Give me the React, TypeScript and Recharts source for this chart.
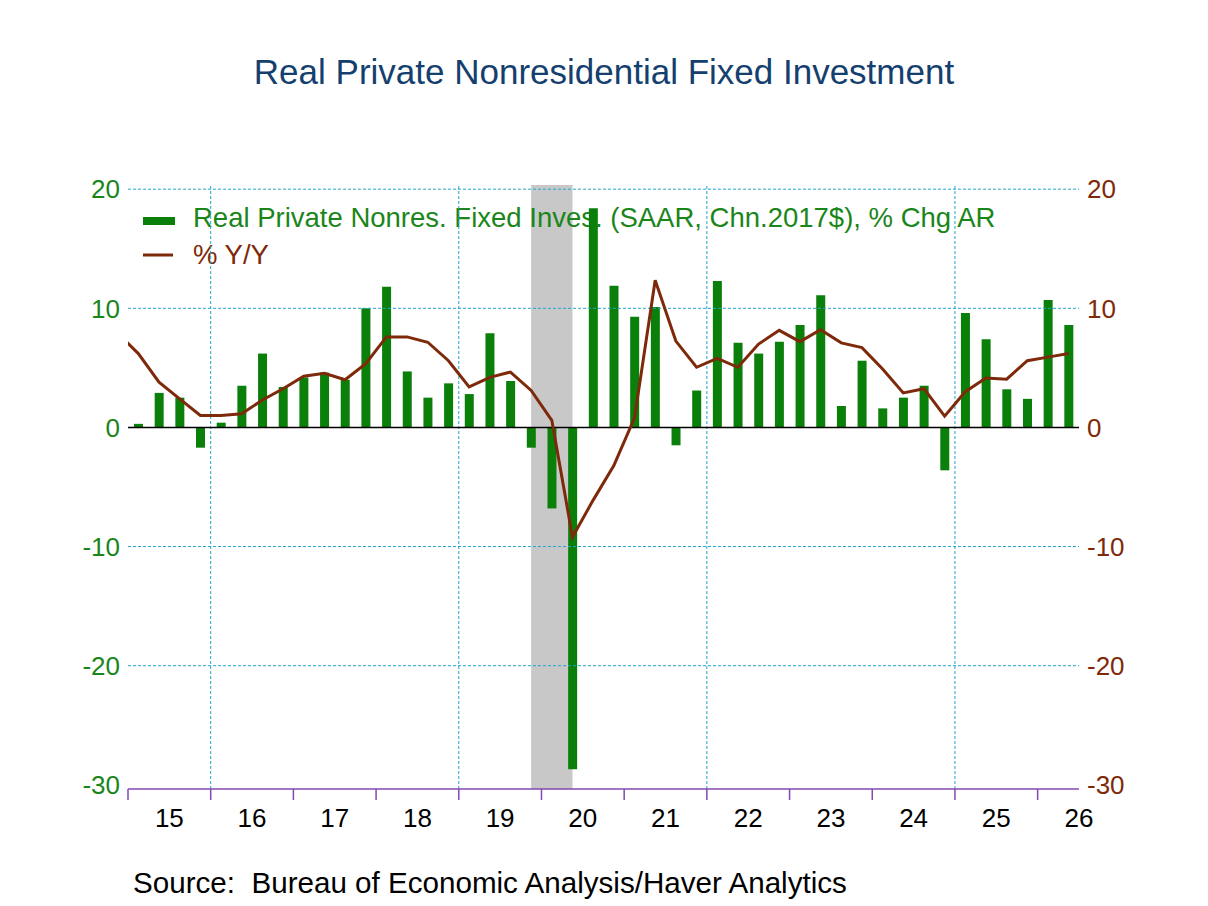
import React from "react";
import {
  ComposedChart,
  Bar,
  Line,
  XAxis,
  YAxis,
  ReferenceLine,
  ReferenceArea,
} from "recharts";

// quarters, 2014Q4 is only there so the Y/Y line runs in from the left edge
const quarters = [
  "2014Q4",
  "2015Q1", "2015Q2", "2015Q3", "2015Q4",
  "2016Q1", "2016Q2", "2016Q3", "2016Q4",
  "2017Q1", "2017Q2", "2017Q3", "2017Q4",
  "2018Q1", "2018Q2", "2018Q3", "2018Q4",
  "2019Q1", "2019Q2", "2019Q3", "2019Q4",
  "2020Q1", "2020Q2", "2020Q3", "2020Q4",
  "2021Q1", "2021Q2", "2021Q3", "2021Q4",
  "2022Q1", "2022Q2", "2022Q3", "2022Q4",
  "2023Q1", "2023Q2", "2023Q3", "2023Q4",
  "2024Q1", "2024Q2", "2024Q3", "2024Q4",
  "2025Q1", "2025Q2", "2025Q3", "2025Q4",
  "2026Q1", "2026Q2",
];

const pctChgAR = [
  null,
  0.3, 2.9, 2.5, -1.7,
  0.4, 3.5, 6.2, 3.4,
  4.2, 4.6, 4.0, 10.0,
  11.8, 4.7, 2.5, 3.7,
  2.8, 7.9, 3.9, -1.7,
  -6.8, -28.7, 18.4, 11.9,
  9.3, 10.1, -1.5, 3.1,
  12.3, 7.1, 6.2, 7.2,
  8.6, 11.1, 1.8, 5.6,
  1.6, 2.5, 3.5, -3.6,
  9.6, 7.4, 3.2, 2.4,
  10.7, 8.6,
];

const pctYoY = [
  7.9,
  6.2, 3.8, 2.4, 1.0,
  1.0, 1.15, 2.3, 3.25,
  4.3, 4.55, 4.0, 5.35,
  7.6, 7.6, 7.15, 5.6,
  3.4, 4.2, 4.65, 3.1,
  0.6, -9.2, -6.1, -3.2,
  0.8, 12.35, 7.25, 5.05,
  5.8, 5.05, 7.0, 8.15,
  7.2, 8.2, 7.1, 6.7,
  4.9, 2.9, 3.25, 0.95,
  3.0, 4.15, 4.05, 5.6,
  5.9, 6.2,
];

const yearLabels = ["15", "16", "17", "18", "19", "20", "21", "22", "23", "24", "25", "26"];
const gridYears = ["16", "19", "22", "25"];
const yTicks = [-30, -20, -10, 0, 10, 20];
const gridValues = [-20, -10, 10, 20];
const recession = ["2019Q4", "2020Q2"];

const GREEN = "#0A7F0A";
const GREEN_TEXT = "#1A861A";
const BROWN = "#7E2A0A";
const PURPLE = "#8448B0";
const CYAN = "#21A6C8";
const FONT = "'Liberation Sans', Arial, sans-serif";

const qIndex = (q: string) =>
  (Number(q.slice(0, 4)) - 2015) * 4 + Number(q.slice(5)) - 1;

const data = quarters.map((q, i) => ({
  q,
  x: qIndex(q),
  chg: pctChgAR[i],
  yoy: pctYoY[i],
}));

const yearStart = (k: number) => k * 4 - 0.5;
const yearMid = (k: number) => k * 4 + 1.5;
const xTicks = [
  ...yearLabels.map((_, k) => yearStart(k)),
  ...yearLabels.map((_, k) => yearMid(k)),
].sort((a, b) => a - b);

const Y_DOMAIN: [number, number] = [-30.35, 20.35];

function YearTick(props: any) {
  const { x, y, payload } = props;
  const v = payload.value as number;
  if (Math.abs((v + 0.5) % 4) < 1e-6) {
    return <line x1={x} x2={x} y1={y} y2={y + 11} stroke={PURPLE} strokeWidth={1.5} />;
  }
  const k = Math.round((v - 1.5) / 4);
  return (
    <text x={x} y={y + 38} textAnchor="middle" fontSize={26} fill="#000" fontFamily={FONT}>
      {yearLabels[k]}
    </text>
  );
}

function LegendBlock() {
  return (
    <g fontFamily={FONT} fontSize={27.5}>
      <rect x={143} y={217} width={32} height={8} fill={GREEN} />
      <text x={193} y={227} fill={GREEN_TEXT}>
        Real Private Nonres. Fixed Inves. (SAAR, Chn.2017$), % Chg AR
      </text>
      <line x1={143} x2={173} y1={255} y2={255} stroke={BROWN} strokeWidth={3} />
      <text x={193} y={264} fill={BROWN}>
        % Y/Y
      </text>
    </g>
  );
}

// recession shading, with the legend drawn just above it and below the bars
function ShadeWithLegend(props: any) {
  const { x, y, width, height } = props;
  return (
    <g>
      <rect x={x} y={y} width={width} height={height} fill="#C8C8C8" />
      <LegendBlock />
    </g>
  );
}

export default function App() {
  return (
    <div
      style={{
        position: "absolute",
        left: 0,
        top: 0,
        width: 1208,
        height: 906,
        background: "#fff",
        fontFamily: FONT,
      }}
    >
      <div
        style={{
          position: "absolute",
          left: 0,
          width: 1208,
          top: 52,
          textAlign: "center",
          fontSize: 35,
          color: "#143F6E",
        }}
      >
        Real Private Nonresidential Fixed Investment
      </div>
      <ComposedChart
        width={1208}
        height={906}
        data={data}
        margin={{ top: 185, right: 29, bottom: 77, left: 0 }}
      >
        <XAxis
          type="number"
          dataKey="x"
          domain={[-0.5, 45.5]}
          allowDataOverflow
          ticks={xTicks}
          interval={0}
          tick={YearTick}
          tickLine={false}
          tickSize={0}
          tickMargin={0}
          height={40}
          axisLine={{ stroke: PURPLE, strokeWidth: 1.5 }}
        />
        <YAxis
          yAxisId="left"
          domain={Y_DOMAIN}
          allowDataOverflow
          ticks={yTicks}
          width={128}
          axisLine={false}
          tickLine={false}
          tick={{ fill: GREEN_TEXT, fontSize: 26, fontFamily: FONT }}
        />
        <YAxis
          yAxisId="right"
          orientation="right"
          domain={Y_DOMAIN}
          allowDataOverflow
          ticks={yTicks}
          width={100}
          axisLine={false}
          tickLine={false}
          tick={{ fill: BROWN, fontSize: 26, fontFamily: FONT }}
        />
        {gridValues.map((v) => (
          <ReferenceLine
            key={"h" + v}
            yAxisId="left"
            y={v}
            stroke={CYAN}
            strokeDasharray="3 2"
          />
        ))}
        {gridYears.map((yr) => (
          <ReferenceLine
            key={"v" + yr}
            yAxisId="left"
            x={yearStart(yearLabels.indexOf(yr))}
            stroke={CYAN}
            strokeDasharray="3 2"
          />
        ))}
        <ReferenceArea
          yAxisId="left"
          x1={qIndex(recession[0])}
          x2={qIndex(recession[1])}
          shape={ShadeWithLegend}
        />
        <Bar
          yAxisId="left"
          dataKey="chg"
          name="Real Private Nonres. Fixed Inves. (SAAR, Chn.2017$), % Chg AR"
          fill={GREEN}
          barSize={9}
          isAnimationActive={false}
        />
        <ReferenceLine yAxisId="left" y={0} stroke="#000" strokeWidth={1.5} />
        <Line
          yAxisId="right"
          type="linear"
          dataKey="yoy"
          name="% Y/Y"
          stroke={BROWN}
          strokeWidth={3}
          dot={false}
          isAnimationActive={false}
        />
      </ComposedChart>
      <div
        style={{
          position: "absolute",
          left: 133,
          top: 866,
          fontSize: 29.6,
          color: "#000",
          whiteSpace: "pre",
        }}
      >
        {"Source:  Bureau of Economic Analysis/Haver Analytics"}
      </div>
    </div>
  );
}
